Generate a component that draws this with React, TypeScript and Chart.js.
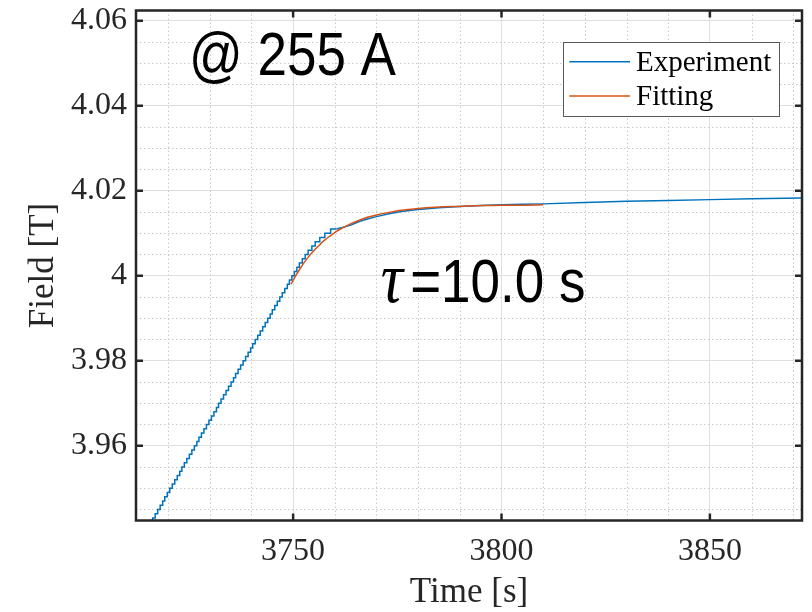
import React, { useEffect, useRef } from 'react';
import { Chart, registerables } from 'chart.js';

Chart.register(...registerables);

// ---------------- data ----------------
// Experiment: quantised staircase (ramp + knee)
const expStepTime = [
  3715.7, 3716.3, 3716.9, 3717.5, 3718.1, 3718.7, 3719.2, 3719.8, 3720.4, 3721.0,
  3721.6, 3722.2, 3722.8, 3723.3, 3723.9, 3724.5, 3725.1, 3725.7, 3726.3, 3726.9,
  3727.4, 3728.0, 3728.6, 3729.2, 3729.8, 3730.4, 3731.0, 3731.6, 3732.1, 3732.7,
  3733.3, 3733.9, 3734.5, 3735.1, 3735.7, 3736.2, 3736.8, 3737.4, 3738.0, 3738.6,
  3739.2, 3739.8, 3740.3, 3740.9, 3741.5, 3742.1, 3742.7, 3743.3, 3743.9, 3744.5,
  3745.0, 3745.6, 3746.2, 3746.8, 3747.4, 3748.0, 3748.6, 3749.1, 3749.7, 3750.3,
  3750.9, 3751.5, 3752.2, 3752.9, 3753.6, 3754.5, 3755.3, 3756.4, 3757.6, 3759.0,
  3760.4,
];
const expStepField = [
  3.941, 3.942, 3.943, 3.944, 3.945, 3.946, 3.947, 3.948, 3.949, 3.95,
  3.951, 3.952, 3.953, 3.954, 3.955, 3.956, 3.957, 3.958, 3.959, 3.96,
  3.961, 3.962, 3.963, 3.964, 3.965, 3.966, 3.967, 3.968, 3.969, 3.97,
  3.971, 3.972, 3.973, 3.974, 3.975, 3.976, 3.977, 3.978, 3.979, 3.98,
  3.981, 3.982, 3.983, 3.984, 3.985, 3.986, 3.987, 3.988, 3.989, 3.99,
  3.991, 3.992, 3.993, 3.994, 3.995, 3.996, 3.997, 3.998, 3.999, 4.0,
  4.001, 4.002, 4.003, 4.004, 4.005, 4.006, 4.007, 4.008, 4.009, 4.01,
  4.011,
];
// Experiment: slow tail after the knee
const expTailTime = [
  3760.4, 3762, 3764, 3766, 3768, 3770, 3773, 3776, 3780, 3785,
  3790, 3795, 3800, 3805, 3810, 3820, 3830, 3840, 3850, 3860, 3875,
];
const expTailField = [
  4.011, 4.0114, 4.012, 4.0128, 4.0134, 4.0139, 4.0146, 4.0151, 4.0156, 4.016,
  4.0163, 4.0165, 4.0167, 4.0168, 4.0169, 4.0172, 4.0175, 4.0177, 4.0179, 4.0181, 4.0183,
];
// Fitting curve
const fitTime = [
  3749.5, 3750.5, 3751.5, 3752.5, 3753.5, 3754.5, 3755.5, 3756.5, 3757.5, 3758.5,
  3759.5, 3760.5, 3762, 3764, 3766, 3768, 3770, 3773, 3776, 3780,
  3784, 3788, 3792, 3796, 3800, 3805, 3810,
];
const fitField = [
  3.998, 3.9998, 4.0014, 4.0029, 4.0042, 4.0054, 4.0064, 4.0074, 4.0083, 4.0091,
  4.0098, 4.0105, 4.0113, 4.0123, 4.0131, 4.0138, 4.0143, 4.0149, 4.0154, 4.0158,
  4.0161, 4.0163, 4.0164, 4.0165, 4.0166, 4.0166, 4.0167,
];

const seriesNames = ['Experiment', 'Fitting'];
const seriesColors = ['#0072BD', '#D95319'];

const xTicks = [3750, 3800, 3850];
const xTickLabels = ['3750', '3800', '3850'];
const yTicks = [3.96, 3.98, 4.0, 4.02, 4.04, 4.06];
const yTickLabels = ['3.96', '3.98', '4', '4.02', '4.04', '4.06'];
const xMinor = [3720, 3730, 3740, 3760, 3770, 3780, 3790, 3810, 3820, 3830, 3840, 3860, 3870];
const yMinor = [3.945, 3.95, 3.955, 3.965, 3.97, 3.975, 3.985, 3.99, 3.995,
  4.005, 4.01, 4.015, 4.025, 4.03, 4.035, 4.045, 4.05, 4.055];
const xMin = 3712.3;
const xMax = 3872.1;
const yMin = 3.9424;
const yMax = 4.0624;

const xTitle = 'Time [s]';
const yTitle = 'Field [T]';
const currentLabel = '@ 255 A';
const tauSymbol = '\u03C4';
const tauLabel = '=10.0 s';

// ---------------------------------------
const SERIF = '"Liberation Serif", "Times New Roman", serif';
const SANS = '"Liberation Sans", Arial, sans-serif';
const AXIS = '#262626';

const toXY = (xs: number[], ys: number[]) => xs.map((x, i) => ({ x, y: ys[i] }));

const matlabPlugin = {
  id: 'matlabLook',
  beforeDatasetsDraw(chart: any) {
    const { ctx, chartArea: a, scales } = chart;
    const x = scales.x;
    const y = scales.y;
    ctx.save();
    ctx.beginPath();
    ctx.rect(a.left, a.top, a.right - a.left, a.bottom - a.top);
    ctx.clip();
    ctx.strokeStyle = '#c8c8c8';
    ctx.lineWidth = 1;
    ctx.setLineDash([1.5, 2.5]);
    for (const v of xMinor) {
      const px = Math.round(x.getPixelForValue(v)) + 0.5;
      ctx.beginPath();
      ctx.moveTo(px, a.top);
      ctx.lineTo(px, a.bottom);
      ctx.stroke();
    }
    for (const v of yMinor) {
      const py = Math.round(y.getPixelForValue(v)) + 0.5;
      ctx.beginPath();
      ctx.moveTo(a.left, py);
      ctx.lineTo(a.right, py);
      ctx.stroke();
    }
    ctx.restore();
  },
  afterDatasetsDraw(chart: any) {
    const { ctx, chartArea: a, scales } = chart;
    const x = scales.x;
    const y = scales.y;
    ctx.save();
    ctx.strokeStyle = AXIS;
    ctx.lineWidth = 2.5;
    const tl = 7;
    ctx.beginPath();
    for (const v of xTicks) {
      const px = x.getPixelForValue(v);
      ctx.moveTo(px, a.bottom);
      ctx.lineTo(px, a.bottom - tl);
      ctx.moveTo(px, a.top);
      ctx.lineTo(px, a.top + tl);
    }
    for (const v of yTicks) {
      const py = y.getPixelForValue(v);
      ctx.moveTo(a.left, py);
      ctx.lineTo(a.left + tl, py);
      ctx.moveTo(a.right, py);
      ctx.lineTo(a.right - tl, py);
    }
    ctx.stroke();
    ctx.strokeRect(a.left, a.top, a.right - a.left, a.bottom - a.top);
    ctx.restore();
  },
  afterDraw(chart: any) {
    const { ctx, chartArea: a, scales } = chart;
    const x = scales.x;
    const y = scales.y;
    const stretch = 1.16;
    ctx.save();
    ctx.fillStyle = '#000';
    ctx.textBaseline = 'alphabetic';
    ctx.textAlign = 'left';

    // "@ 255 A"
    const cx = x.getPixelForValue(3725.0);
    const cy = y.getPixelForValue(4.0472);
    ctx.save();
    ctx.translate(cx, cy);
    ctx.scale(1, stretch);
    ctx.font = `53px ${SANS}`;
    ctx.fillText(currentLabel, 0, 0);
    ctx.restore();

    // "τ=10.0 s"
    const tx = x.getPixelForValue(3771.0);
    const ty = y.getPixelForValue(3.9939);
    ctx.save();
    ctx.translate(tx, ty);
    ctx.scale(1, stretch);
    ctx.font = `italic 62px ${SERIF}`;
    ctx.fillText(tauSymbol, 0, 0);
    ctx.font = `53px ${SANS}`;
    ctx.fillText(tauLabel, 29.5, 0);
    ctx.restore();

    // legend box
    const bw = 215.6;
    const bh = 74.3;
    const bx = a.right - 239.3;
    const by = a.top + 31.2;
    ctx.fillStyle = '#fff';
    ctx.fillRect(bx, by, bw, bh);
    ctx.strokeStyle = '#595959';
    ctx.lineWidth = 1;
    ctx.strokeRect(Math.round(bx) + 0.5, Math.round(by) + 0.5, Math.round(bw), Math.round(bh));
    const rows = [by + 20, by + 54.3];
    const bases = [by + 29, by + 63.3];
    ctx.font = `29px ${SERIF}`;
    seriesNames.forEach((name, i) => {
      ctx.strokeStyle = seriesColors[i];
      ctx.lineWidth = 1.5;
      ctx.beginPath();
      ctx.moveTo(bx + 6.6, rows[i]);
      ctx.lineTo(bx + 67.3, rows[i]);
      ctx.stroke();
      ctx.fillStyle = '#000';
      ctx.fillText(name, bx + 73.3, bases[i]);
    });
    ctx.restore();
  },
};

export default function App() {
  const canvasRef = useRef<HTMLCanvasElement | null>(null);

  useEffect(() => {
    const canvas = canvasRef.current;
    if (!canvas) return;
    const chart = new Chart(canvas, {
      type: 'line',
      data: {
        datasets: [
          {
            label: seriesNames[1],
            data: toXY(fitTime, fitField),
            borderColor: seriesColors[1],
            backgroundColor: seriesColors[1],
            borderWidth: 1.5,
            pointRadius: 0,
            cubicInterpolationMode: 'monotone',
            order: 0,
          },
          {
            label: seriesNames[0],
            data: toXY(expStepTime, expStepField),
            borderColor: seriesColors[0],
            backgroundColor: seriesColors[0],
            borderWidth: 1.5,
            pointRadius: 0,
            stepped: 'after',
            order: 1,
          },
          {
            label: seriesNames[0] + ' tail',
            data: toXY(expTailTime, expTailField),
            borderColor: seriesColors[0],
            backgroundColor: seriesColors[0],
            borderWidth: 1.5,
            pointRadius: 0,
            tension: 0,
            order: 2,
          },
        ],
      },
      options: {
        animation: false,
        responsive: false,
        devicePixelRatio: 1,
        parsing: true,
        layout: { padding: { top: 10.5, right: 10, bottom: 0, left: 0 } },
        plugins: {
          legend: { display: false },
          tooltip: { enabled: false },
          title: { display: false },
        },
        scales: {
          x: {
            type: 'linear',
            position: 'bottom',
            min: xMin,
            max: xMax,
            afterBuildTicks: (s: any) => {
              s.ticks = xTicks.map((v) => ({ value: v }));
            },
            afterFit: (s: any) => {
              s.height = 91.5;
              s.paddingLeft = 0;
              s.paddingRight = 0;
            },
            ticks: {
              callback: (_v: any, i: number) => xTickLabels[i],
              font: { family: SERIF, size: 32 },
              color: AXIS,
              padding: 12,
              maxRotation: 0,
              autoSkip: false,
            },
            grid: { color: '#dfdfdf', lineWidth: 1, drawTicks: false },
            border: { display: false },
            title: {
              display: true,
              text: xTitle,
              font: { family: SERIF, size: 35 },
              color: AXIS,
              padding: { top: 0, bottom: -2 },
            },
          },
          y: {
            type: 'linear',
            position: 'left',
            min: yMin,
            max: yMax,
            afterBuildTicks: (s: any) => {
              s.ticks = yTicks.map((v) => ({ value: v }));
            },
            afterFit: (s: any) => {
              s.width = 136;
              s.paddingTop = 0;
              s.paddingBottom = 0;
            },
            ticks: {
              callback: (_v: any, i: number) => yTickLabels[i],
              font: { family: SERIF, size: 32 },
              color: AXIS,
              padding: 9,
              autoSkip: false,
            },
            grid: { color: '#dfdfdf', lineWidth: 1, drawTicks: false },
            border: { display: false },
            title: {
              display: true,
              text: yTitle,
              font: { family: SERIF, size: 35 },
              color: AXIS,
              padding: { top: 22.5, bottom: 0 },
            },
          },
        },
      },
      plugins: [matlabPlugin],
    });
    return () => chart.destroy();
  }, []);

  return (
    <div style={{ position: 'fixed', left: 0, top: 0, width: 812, height: 612, background: '#fff' }}>
      <canvas ref={canvasRef} width={812} height={612} style={{ display: 'block', width: 812, height: 612 }} />
    </div>
  );
}
